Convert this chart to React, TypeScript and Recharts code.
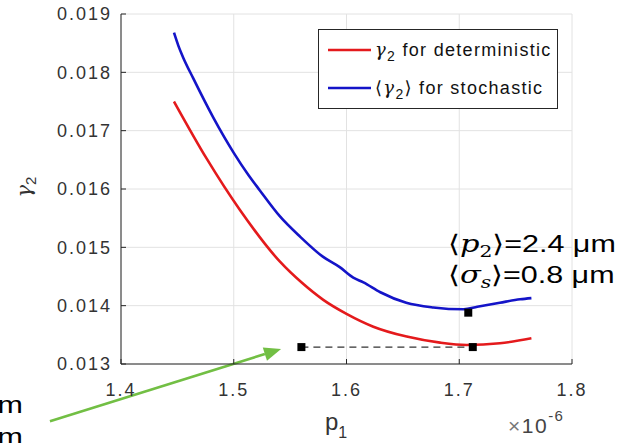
import React from 'react';
import {
  ComposedChart,
  Line,
  Scatter,
  XAxis,
  YAxis,
  CartesianGrid,
  ReferenceLine,
} from 'recharts';

// p1 is in units of 1e-6 m
const xTicks = [1.4, 1.5, 1.6, 1.7, 1.8];
const yTicks = [0.013, 0.014, 0.015, 0.016, 0.017, 0.018, 0.019];

// gamma_2, deterministic model
const detP1 = [1.447, 1.476, 1.5055, 1.541, 1.56, 1.5794, 1.6, 1.6238, 1.6534, 1.683, 1.7066, 1.736, 1.764];
const detGamma = [0.0175, 0.01652, 0.01564, 0.014754, 0.0144, 0.0141, 0.01386, 0.01364, 0.01347, 0.013366, 0.013326, 0.013355, 0.01344];

// <gamma_2>, stochastic model
const stoP1 = [1.447, 1.451, 1.455, 1.464, 1.482, 1.5, 1.513, 1.523, 1.541, 1.559, 1.579, 1.594, 1.606, 1.615, 1.63, 1.653, 1.677, 1.704, 1.716, 1.736, 1.754, 1.764];
const stoGamma = [0.01868, 0.01845, 0.01826, 0.0179, 0.01722, 0.01662, 0.01624, 0.01598, 0.01553, 0.01518, 0.01484, 0.01466, 0.01448, 0.0144, 0.01423, 0.01405, 0.01397, 0.013938, 0.01398, 0.01405, 0.01411, 0.01413];

// optima and the shifted point at equal gamma
const markP1 = [1.56, 1.712, 1.708];
const markGamma = [0.01329, 0.01329, 0.01388];
const dashP1 = [1.56, 1.712];
const dashGamma = [0.01329, 0.01329];

// pointer from the note at the lower left
const arrowP1 = [1.337, 1.542];
const arrowGamma = [0.01202, 0.013257];

const zip = (xs: number[], ys: number[]) => xs.map((p, i) => ({ p, g: ys[i] }));

const det = zip(detP1, detGamma);
const sto = zip(stoP1, stoGamma);
const marks = zip(markP1, markGamma);
const dash = zip(dashP1, dashGamma);

const RED = '#e41a1c';
const BLUE = '#1414c8';
const GREEN = '#72bf44';
const AXIS = '#262626';
const SANS = '"Liberation Sans", Arial, Helvetica, sans-serif';
const SERIF = '"DejaVu Serif", "Liberation Serif", serif';

const tickStyle = { fill: '#333', fontSize: 18, fontFamily: SANS, letterSpacing: 2 };

const Arrow = (props: any) => {
  const { x1, y1, x2, y2 } = props;
  const a = Math.atan2(y2 - y1, x2 - x1);
  const len = 17;
  const half = 7;
  const bx = x2 - len * Math.cos(a);
  const by = y2 - len * Math.sin(a);
  const nx = -Math.sin(a) * half;
  const ny = Math.cos(a) * half;
  return (
    <g>
      <line x1={x1} y1={y1} x2={bx} y2={by} stroke={GREEN} strokeWidth={2.6} />
      <polygon points={`${x2},${y2} ${bx + nx},${by + ny} ${bx - nx},${by - ny}`} fill={GREEN} />
    </g>
  );
};

const LegendBox = () => (
  <svg width={240} height={80} style={{ position: 'absolute', left: 318, top: 29, pointerEvents: 'none' }}>
    <rect x={0.5} y={0.5} width={239} height={79} fill="#fff" stroke={AXIS} />
    <line x1={10} x2={53} y1={21} y2={21} stroke={RED} strokeWidth={2.5} />
    <line x1={10} x2={53} y1={59} y2={59} stroke={BLUE} strokeWidth={2.5} />
    <text x={57} y={27} fontSize={18} fontFamily={SANS} letterSpacing={1.3} fill="#111">
      <tspan fontFamily={SERIF} fontStyle="italic">γ</tspan>
      <tspan fontSize={14} dy={5}>2</tspan>
      <tspan dy={-5}> for deterministic</tspan>
    </text>
    <text x={57} y={65} fontSize={18} fontFamily={SANS} letterSpacing={1.3} fill="#111">
      <tspan fontFamily={SERIF}>⟨</tspan>
      <tspan fontFamily={SERIF} fontStyle="italic">γ</tspan>
      <tspan fontSize={14} dy={5}>2</tspan>
      <tspan fontFamily={SERIF} dy={-5}>⟩</tspan>
      <tspan> for stochastic</tspan>
    </text>
  </svg>
);

const Note = ({ x, y, sym, sub, subItalic, value }: any) => (
  <text transform={`translate(${x},${y}) scale(1.27,1)`} fontSize={24} fontFamily={SANS} fill="#000">
    <tspan fontFamily={SERIF}>⟨</tspan>
    <tspan fontFamily={SERIF} fontStyle="italic">{sym}</tspan>
    <tspan fontFamily={SERIF} fontStyle={subItalic ? 'italic' : 'normal'} fontSize={16} dy={5}>{sub}</tspan>
    <tspan fontFamily={SERIF} dy={-5}>⟩</tspan>
    <tspan>{value}</tspan>
  </text>
);

export default function App() {
  return (
    <div style={{ position: 'absolute', left: 0, top: 0, width: 633, height: 443, background: '#fff', overflow: 'hidden' }}>
      <ComposedChart width={633} height={443} margin={{ top: 14, right: 61, bottom: 49, left: 61 }}>
        <CartesianGrid stroke="#e2e2e2" strokeWidth={1} />
        <XAxis
          type="number"
          dataKey="p"
          domain={[1.4, 1.8]}
          ticks={xTicks}
          height={30}
          stroke={AXIS}
          tickSize={-5}
          tickMargin={24}
          tick={tickStyle}
          tickFormatter={(v: number) => v.toFixed(1)}
          allowDataOverflow
        />
        <YAxis
          type="number"
          dataKey="g"
          domain={[0.013, 0.019]}
          ticks={yTicks}
          width={60}
          stroke={AXIS}
          tickSize={-5}
          tickMargin={14}
          tick={tickStyle}
          tickFormatter={(v: number) => v.toFixed(3)}
          allowDataOverflow
        />
        <Line data={det} dataKey="g" type="monotone" stroke={RED} strokeWidth={2.6} dot={false} isAnimationActive={false} />
        <Line data={sto} dataKey="g" type="monotone" stroke={BLUE} strokeWidth={2.6} dot={false} isAnimationActive={false} />
        <Line
          data={dash}
          dataKey="g"
          type="linear"
          stroke="#333"
          strokeWidth={1.3}
          strokeDasharray="7 5"
          dot={false}
          isAnimationActive={false}
        />
        <Scatter data={marks} dataKey="g" fill="#000" shape="square" isAnimationActive={false} />
        <ReferenceLine
          segment={[
            { x: arrowP1[0], y: arrowGamma[0] },
            { x: arrowP1[1], y: arrowGamma[1] },
          ]}
          ifOverflow="visible"
          shape={Arrow}
        />
      </ComposedChart>

      <LegendBox />

      <svg width={633} height={443} style={{ position: 'absolute', left: 0, top: 0, pointerEvents: 'none' }}>
        <text transform="translate(31,187) rotate(-90)" textAnchor="middle" fontSize={21} fill="#333" fontFamily={SERIF}>
          <tspan fontStyle="italic">γ</tspan>
          <tspan fontSize={15} dy={5} fontFamily={SANS}>2</tspan>
        </text>
        <text x={325} y={430} fontSize={24} fill="#333" fontFamily={SANS}>
          p<tspan fontSize={16} dy={8}>1</tspan>
        </text>
        <text x={508} y={433} fontSize={21} fill="#444" fontFamily={SANS} letterSpacing={1.5}>
          <tspan fill="#777">×</tspan>10<tspan fontSize={15} dy={-12}>-6</tspan>
        </text>
        <Note x={448} y={252} sym="p" sub="2" value="=2.4 μm" />
        <Note x={448} y={283} sym="σ" sub="s" subItalic value="=0.8 μm" />
        <text transform="translate(23,413) scale(1.27,1)" textAnchor="end" fontSize={24} fontFamily={SANS} fill="#000">μm</text>
        <text transform="translate(23,445) scale(1.27,1)" textAnchor="end" fontSize={24} fontFamily={SANS} fill="#000">μm</text>
      </svg>
    </div>
  );
}
